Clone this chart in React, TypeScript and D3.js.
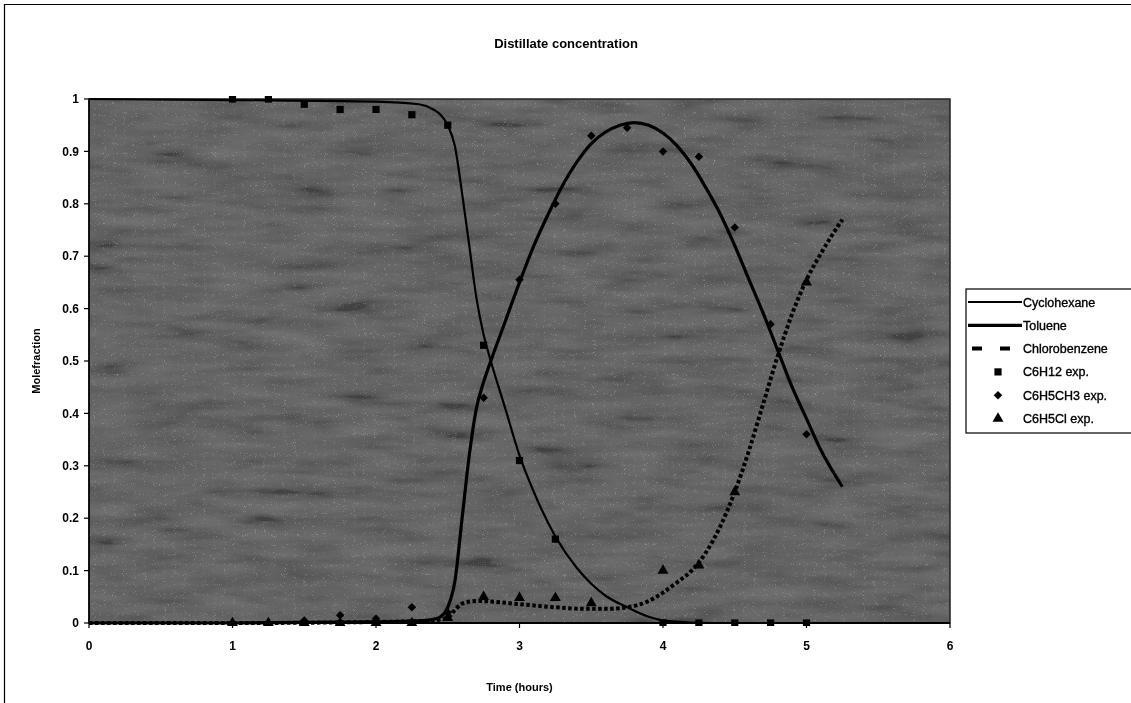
import React from "react";
import * as d3 from "d3";

const title = "Distillate concentration";
const xTitle = "Time (hours)";
const yTitle = "Molefraction";
const xTicks = [0, 1, 2, 3, 4, 5, 6];
const yTicks = [0, 0.1, 0.2, 0.3, 0.4, 0.5, 0.6, 0.7, 0.8, 0.9, 1];

// model curves
const cycloT = [0, 1, 2, 2.3, 2.4, 2.45, 2.5, 2.55, 2.6, 2.65, 2.7, 2.75, 2.8, 2.9, 3.0, 3.1, 3.25, 3.4, 3.5, 3.6, 3.75, 3.9, 4.0, 4.2, 4.5, 5.25];
const cycloV = [1.0, 0.998, 0.995, 0.99, 0.98, 0.97, 0.95, 0.91, 0.82, 0.72, 0.62, 0.55, 0.5, 0.41, 0.32, 0.25, 0.165, 0.105, 0.075, 0.052, 0.03, 0.012, 0.005, 0.001, 0, 0];

const toluT = [0, 1, 2, 2.3, 2.4, 2.45, 2.5, 2.55, 2.6, 2.65, 2.7, 2.75, 2.8, 2.9, 3.0, 3.1, 3.2, 3.3, 3.4, 3.5, 3.6, 3.7, 3.8, 3.9, 4.0, 4.1, 4.2, 4.3, 4.4, 4.5, 4.6, 4.7, 4.8, 4.9, 5.0, 5.1, 5.25];
const toluV = [0, 0, 0.002, 0.004, 0.007, 0.012, 0.03, 0.08, 0.2, 0.32, 0.41, 0.46, 0.5, 0.575, 0.65, 0.72, 0.78, 0.835, 0.88, 0.915, 0.937, 0.95, 0.955, 0.95, 0.935, 0.91, 0.875, 0.83, 0.78, 0.72, 0.655, 0.59, 0.52, 0.45, 0.39, 0.33, 0.26];

const chloT = [0, 1, 2, 2.4, 2.5, 2.55, 2.6, 2.7, 2.8, 3.0, 3.25, 3.45, 3.6, 3.75, 3.9, 4.0, 4.1, 4.2, 4.3, 4.4, 4.5, 4.6, 4.7, 4.8, 4.9, 5.0, 5.1, 5.25];
const chloV = [0, 0, 0.002, 0.005, 0.01, 0.025, 0.037, 0.042, 0.041, 0.036, 0.03, 0.027, 0.027, 0.03, 0.042, 0.058, 0.078, 0.1, 0.135, 0.185, 0.25, 0.33, 0.42, 0.51, 0.59, 0.655, 0.705, 0.77];

// experimental points
const c6h12T = [1, 1.25, 1.5, 1.75, 2, 2.25, 2.5, 2.75, 3, 3.25, 4, 4.25, 4.5, 4.75, 5];
const c6h12V = [1.0, 1.0, 0.99, 0.98, 0.98, 0.97, 0.95, 0.53, 0.31, 0.16, 0, 0, 0, 0, 0];

const tolExpT = [1.5, 1.75, 2, 2.25, 2.5, 2.75, 3, 3.25, 3.5, 3.75, 4, 4.25, 4.5, 4.75, 5];
const tolExpV = [0.005, 0.015, 0.008, 0.03, 0.02, 0.43, 0.655, 0.8, 0.93, 0.945, 0.9, 0.89, 0.755, 0.57, 0.36];

const clExpT = [1, 1.25, 1.5, 1.75, 2, 2.25, 2.5, 2.75, 3, 3.25, 3.5, 4, 4.25, 4.5, 5];
const clExpV = [0, 0, 0, 0, 0, 0, 0.01, 0.05, 0.048, 0.048, 0.038, 0.1, 0.11, 0.25, 0.65];

const legendItems = ["Cyclohexane", "Toluene", "Chlorobenzene", "C6H12 exp.", "C6H5CH3 exp.", "C6H5Cl exp."];

const W = 1131;
const H = 703;
const plot = { left: 89, right: 950, top: 99, bottom: 623 };
const font = "'Liberation Sans', Arial, sans-serif";

export default function App() {
  const x = d3.scaleLinear().domain([0, 6]).range([plot.left, plot.right]);
  const y = d3.scaleLinear().domain([0, 1]).range([plot.bottom, plot.top]);
  const line = d3
    .line<[number, number]>()
    .x((d) => x(d[0]))
    .y((d) => y(d[1]))
    .curve(d3.curveMonotoneX);
  const zip = (a: number[], b: number[]) => a.map((t, i) => [t, b[i]] as [number, number]);

  const sq = d3.symbol(d3.symbolSquare, 52)();
  const dia = d3.symbol(d3.symbolSquare, 36)();
  const tri = d3.symbol(d3.symbolTriangle, 52)();

  const legX = 966;
  const legTop = 289;
  const rowY = (i: number) => 302 + i * 23.3;

  return (
    <svg
      width={W}
      height={H}
      style={{ position: "absolute", left: 0, top: 0, display: "block", background: "#fff" }}
      fontFamily={font}
    >
      <defs>
        <filter id="noise" x="0" y="0" width="100%" height="100%">
          <feTurbulence type="fractalNoise" baseFrequency="0.015 0.07" numOctaves="3" seed="4" result="t" />
          <feColorMatrix
            in="t"
            type="matrix"
            values="0.8 0.8 0.8 0 -0.7  0.8 0.8 0.8 0 -0.7  0.8 0.8 0.8 0 -0.7  0 0 0 0 1"
          />
        </filter>
        <filter id="grain" x="0" y="0" width="100%" height="100%">
          <feTurbulence type="turbulence" baseFrequency="0.9" numOctaves="1" seed="7" result="g" />
          <feColorMatrix
            in="g"
            type="matrix"
            values="1 1 1 0 -0.9  1 1 1 0 -0.9  1 1 1 0 -0.9  0 0 0 0 1"
          />
        </filter>
        <clipPath id="plotclip">
          <rect x={plot.left} y={plot.top - 3} width={plot.right - plot.left + 3} height={plot.bottom - plot.top + 6} />
        </clipPath>
      </defs>

      {/* outer frame */}
      <path d={`M4.5,${H + 5} V4.5 H${W + 5}`} fill="none" stroke="#000" strokeWidth={1.2} />

      <text x={566} y={48} textAnchor="middle" fontSize={13} fontWeight="bold">
        {title}
      </text>

      {/* plot background */}
      <rect x={plot.left} y={plot.top} width={plot.right - plot.left} height={plot.bottom - plot.top} fill="#8c8c8c" />
      <rect
        x={plot.left}
        y={plot.top}
        width={plot.right - plot.left}
        height={plot.bottom - plot.top}
        filter="url(#noise)"
        opacity={0.4}
        style={{ mixBlendMode: "multiply" }}
      />
      <rect
        x={plot.left}
        y={plot.top}
        width={plot.right - plot.left}
        height={plot.bottom - plot.top}
        filter="url(#grain)"
        opacity={0.2}
      />
      <rect
        x={plot.left}
        y={plot.top}
        width={plot.right - plot.left}
        height={plot.bottom - plot.top}
        fill="none"
        stroke="#222"
        strokeWidth={1.5}
      />

      {/* axes */}
      <line x1={plot.left} x2={plot.left} y1={plot.top} y2={plot.bottom} stroke="#000" strokeWidth={1.5} />
      <line x1={plot.left} x2={plot.right} y1={plot.bottom} y2={plot.bottom} stroke="#000" strokeWidth={2} />
      {yTicks.map((t) => (
        <g key={"y" + t}>
          <line x1={plot.left - 5} x2={plot.left} y1={y(t)} y2={y(t)} stroke="#000" strokeWidth={1.2} />
          <text x={79} y={y(t)} dy="0.35em" textAnchor="end" fontSize={12} fontWeight="bold">
            {String(t)}
          </text>
        </g>
      ))}
      {xTicks.map((t) => (
        <g key={"x" + t}>
          <line x1={x(t)} x2={x(t)} y1={plot.bottom} y2={plot.bottom + 5} stroke="#000" strokeWidth={1.2} />
          <text x={x(t)} y={650} textAnchor="middle" fontSize={12} fontWeight="bold">
            {String(t)}
          </text>
        </g>
      ))}
      <text x={(plot.left + plot.right) / 2} y={691} textAnchor="middle" fontSize={11} fontWeight="bold">
        {xTitle}
      </text>
      <text
        transform={`translate(40,${(plot.top + plot.bottom) / 2}) rotate(-90)`}
        textAnchor="middle"
        fontSize={11}
        fontWeight="bold"
      >
        {yTitle}
      </text>

      {/* curves */}
      <g clipPath="url(#plotclip)">
        <path d={line(zip(cycloT, cycloV)) || ""} fill="none" stroke="#000" strokeWidth={2.2} />
        <path d={line(zip(toluT, toluV)) || ""} fill="none" stroke="#000" strokeWidth={3.2} />
        <path
          d={line(zip(chloT, chloV)) || ""}
          fill="none"
          stroke="#000"
          strokeWidth={4}
          strokeDasharray="3.5 2.5"
        />
        {c6h12T.map((t, i) => (
          <path key={"s" + i} d={sq || ""} transform={`translate(${x(t)},${y(c6h12V[i])})`} fill="#000" />
        ))}
        {tolExpT.map((t, i) => (
          <path
            key={"d" + i}
            d={dia || ""}
            transform={`translate(${x(t)},${y(tolExpV[i])}) rotate(45)`}
            fill="#000"
          />
        ))}
        {clExpT.map((t, i) => (
          <path key={"t" + i} d={tri || ""} transform={`translate(${x(t)},${y(clExpV[i])})`} fill="#000" />
        ))}
      </g>

      {/* legend */}
      <rect x={legX} y={legTop} width={W - legX + 10} height={433 - legTop} fill="#fff" stroke="#000" strokeWidth={1.2} />
      <line x1={968} x2={1022} y1={rowY(0)} y2={rowY(0)} stroke="#000" strokeWidth={2.2} />
      <line x1={968} x2={1022} y1={rowY(1)} y2={rowY(1)} stroke="#000" strokeWidth={3.2} />
      <line x1={972} x2={1012} y1={rowY(2)} y2={rowY(2)} stroke="#000" strokeWidth={4} strokeDasharray="10 18" />
      <path d={sq || ""} transform={`translate(998,${rowY(3)})`} fill="#000" />
      <path d={dia || ""} transform={`translate(998,${rowY(4)}) rotate(45)`} fill="#000" />
      <path d={tri || ""} transform={`translate(998,${rowY(5)})`} fill="#000" />
      {legendItems.map((s, i) => (
        <text
          key={s}
          x={1023}
          y={rowY(i)}
          dy="0.36em"
          fontSize={12.5}
          stroke="#000"
          strokeWidth={0.35}
        >
          {s}
        </text>
      ))}
    </svg>
  );
}
